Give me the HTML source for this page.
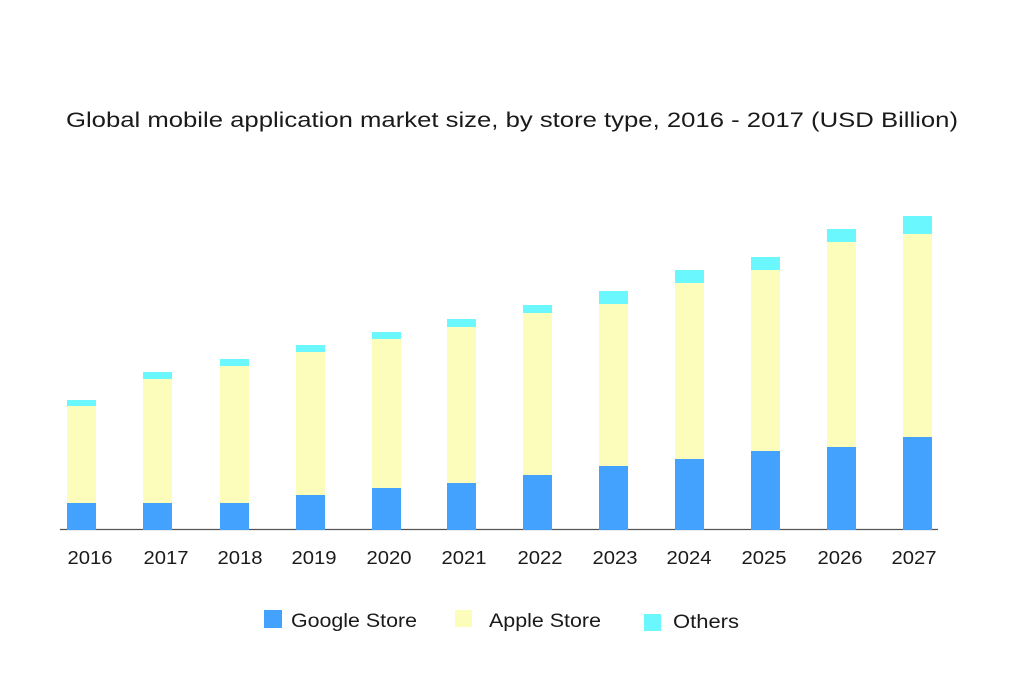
<!DOCTYPE html>
<html><head><meta charset="utf-8"><style>html,body{margin:0;padding:0;background:#fff}svg{display:block}text{font-family:"Liberation Sans",sans-serif;fill:#1a1a1a}</style></head>
<body>
<svg width="1024" height="683" viewBox="0 0 1024 683" xmlns="http://www.w3.org/2000/svg">
<text x="66" y="127" font-size="21" textLength="892" lengthAdjust="spacingAndGlyphs">Global mobile application market size, by store type, 2016 - 2017 (USD Billion)</text>
<line x1="60" y1="529.5" x2="938" y2="529.5" stroke="#555" stroke-width="1.2"/>
<g font-size="18" text-anchor="middle">
<text x="90" y="564" textLength="45" lengthAdjust="spacingAndGlyphs">2016</text><text x="166" y="564" textLength="45" lengthAdjust="spacingAndGlyphs">2017</text><text x="240" y="564" textLength="45" lengthAdjust="spacingAndGlyphs">2018</text><text x="314" y="564" textLength="45" lengthAdjust="spacingAndGlyphs">2019</text><text x="389" y="564" textLength="45" lengthAdjust="spacingAndGlyphs">2020</text><text x="464" y="564" textLength="45" lengthAdjust="spacingAndGlyphs">2021</text><text x="540" y="564" textLength="45" lengthAdjust="spacingAndGlyphs">2022</text><text x="615" y="564" textLength="45" lengthAdjust="spacingAndGlyphs">2023</text><text x="689" y="564" textLength="45" lengthAdjust="spacingAndGlyphs">2024</text><text x="764" y="564" textLength="45" lengthAdjust="spacingAndGlyphs">2025</text><text x="840" y="564" textLength="45" lengthAdjust="spacingAndGlyphs">2026</text><text x="914" y="564" textLength="45" lengthAdjust="spacingAndGlyphs">2027</text>
</g>
<rect x="264" y="610" width="18" height="18" fill="#42a2fe"/>
<text x="291" y="627" font-size="19" textLength="126" lengthAdjust="spacingAndGlyphs">Google Store</text>
<rect x="455" y="610" width="17" height="17" fill="#fdfdbb"/>
<text x="489" y="627" font-size="19" textLength="112" lengthAdjust="spacingAndGlyphs">Apple Store</text>
<rect x="644" y="614" width="17" height="17" fill="#6af7fe"/>
<text x="673" y="628" font-size="19" textLength="66" lengthAdjust="spacingAndGlyphs">Others</text>
<g>
<rect x="67" y="503" width="29" height="27" fill="#42a2fe"/><rect x="67" y="406" width="29" height="97" fill="#fdfdbb"/><rect x="67" y="400" width="29" height="6" fill="#6af7fe"/>
<rect x="143" y="503" width="29" height="27" fill="#42a2fe"/><rect x="143" y="379" width="29" height="124" fill="#fdfdbb"/><rect x="143" y="372" width="29" height="7" fill="#6af7fe"/>
<rect x="220" y="503" width="29" height="27" fill="#42a2fe"/><rect x="220" y="366" width="29" height="137" fill="#fdfdbb"/><rect x="220" y="359" width="29" height="7" fill="#6af7fe"/>
<rect x="296" y="495" width="29" height="35" fill="#42a2fe"/><rect x="296" y="352" width="29" height="143" fill="#fdfdbb"/><rect x="296" y="345" width="29" height="7" fill="#6af7fe"/>
<rect x="372" y="488" width="29" height="42" fill="#42a2fe"/><rect x="372" y="339" width="29" height="149" fill="#fdfdbb"/><rect x="372" y="332" width="29" height="7" fill="#6af7fe"/>
<rect x="447" y="483" width="29" height="47" fill="#42a2fe"/><rect x="447" y="327" width="29" height="156" fill="#fdfdbb"/><rect x="447" y="319" width="29" height="8" fill="#6af7fe"/>
<rect x="523" y="475" width="29" height="55" fill="#42a2fe"/><rect x="523" y="313" width="29" height="162" fill="#fdfdbb"/><rect x="523" y="305" width="29" height="8" fill="#6af7fe"/>
<rect x="599" y="466" width="29" height="64" fill="#42a2fe"/><rect x="599" y="304" width="29" height="162" fill="#fdfdbb"/><rect x="599" y="291" width="29" height="13" fill="#6af7fe"/>
<rect x="675" y="459" width="29" height="71" fill="#42a2fe"/><rect x="675" y="283" width="29" height="176" fill="#fdfdbb"/><rect x="675" y="270" width="29" height="13" fill="#6af7fe"/>
<rect x="751" y="451" width="29" height="79" fill="#42a2fe"/><rect x="751" y="270" width="29" height="181" fill="#fdfdbb"/><rect x="751" y="257" width="29" height="13" fill="#6af7fe"/>
<rect x="827" y="447" width="29" height="83" fill="#42a2fe"/><rect x="827" y="242" width="29" height="205" fill="#fdfdbb"/><rect x="827" y="229" width="29" height="13" fill="#6af7fe"/>
<rect x="903" y="437" width="29" height="93" fill="#42a2fe"/><rect x="903" y="234" width="29" height="203" fill="#fdfdbb"/><rect x="903" y="216" width="29" height="18" fill="#6af7fe"/>
</g>
</svg>
</body></html>
